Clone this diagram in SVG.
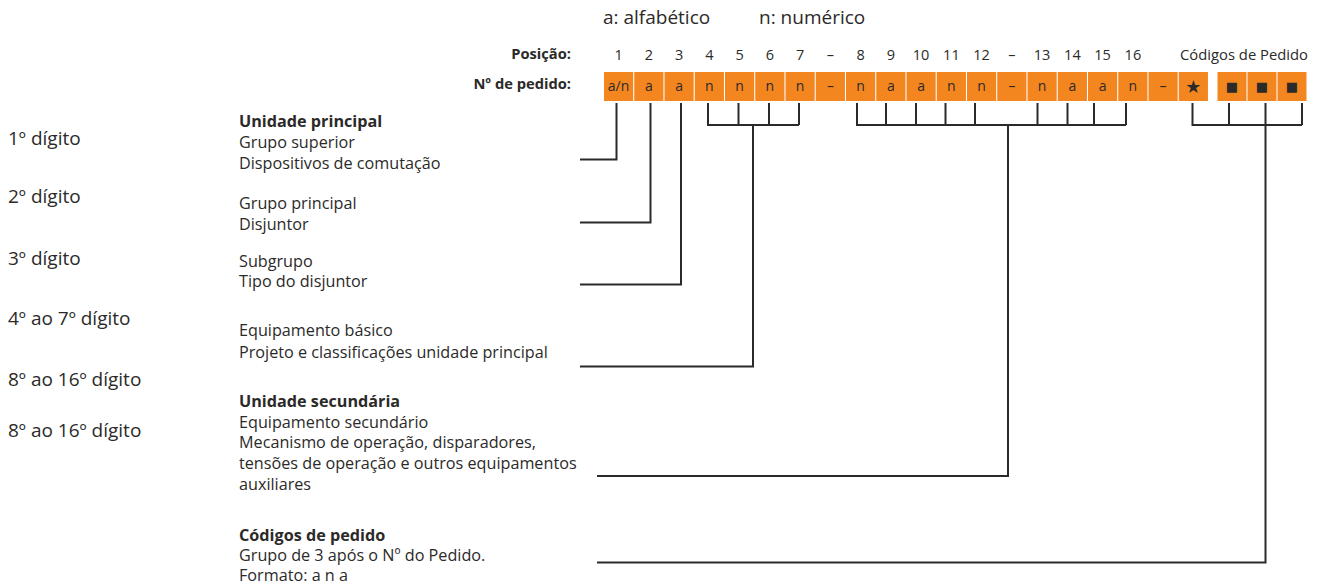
<svg xmlns="http://www.w3.org/2000/svg" width="1321" height="586" viewBox="0 0 1321 586">
<style>
text{font-family:"Open Sans","Noto Sans",sans-serif;fill:#2b2a29}
.hd{font-size:19px}
.lbl{font-size:14.7px;font-weight:bold}
.pos{font-size:14.5px;text-anchor:middle}
.cell{fill:#f4861f}
.ct{font-size:14px;text-anchor:middle}
.sym{font-family:"DejaVu Sans",sans-serif;text-anchor:middle}
.left{font-size:19px}
.mid{font-size:16.2px}
.b{font-weight:bold}
.ln{fill:none;stroke:#2b2a29;stroke-width:2}
</style>
<rect width="1321" height="586" fill="#fff"/>
<g id="header">
<text class="hd" x="603" y="24">a: alfabético</text>
<text class="hd" x="759" y="24">n: numérico</text>
<text class="lbl" x="571" y="59" text-anchor="end">Posição:</text>
<text class="lbl" x="571" y="89" text-anchor="end">Nº de pedido:</text>
</g>
<g id="positions">
<text class="pos" x="618.6" y="60">1</text>
<text class="pos" x="648.9" y="60">2</text>
<text class="pos" x="679.1" y="60">3</text>
<text class="pos" x="709.4" y="60">4</text>
<text class="pos" x="739.6" y="60">5</text>
<text class="pos" x="769.9" y="60">6</text>
<text class="pos" x="800.1" y="60">7</text>
<text class="pos" x="830.4" y="60">–</text>
<text class="pos" x="860.6" y="60">8</text>
<text class="pos" x="890.9" y="60">9</text>
<text class="pos" x="921.1" y="60">10</text>
<text class="pos" x="951.4" y="60">11</text>
<text class="pos" x="981.6" y="60">12</text>
<text class="pos" x="1011.9" y="60">–</text>
<text class="pos" x="1042.1" y="60">13</text>
<text class="pos" x="1072.4" y="60">14</text>
<text class="pos" x="1102.6" y="60">15</text>
<text class="pos" x="1132.9" y="60">16</text>
<text class="pos" x="1244" y="60" style="font-size:14.8px">Códigos de Pedido</text>
</g>
<g id="cells">
<rect class="cell" x="604" y="72" width="29.2" height="29"/>
<rect class="cell" x="634.25" y="72" width="29.2" height="29"/>
<rect class="cell" x="664.5" y="72" width="29.2" height="29"/>
<rect class="cell" x="694.75" y="72" width="29.2" height="29"/>
<rect class="cell" x="725" y="72" width="29.2" height="29"/>
<rect class="cell" x="755.25" y="72" width="29.2" height="29"/>
<rect class="cell" x="785.5" y="72" width="29.2" height="29"/>
<rect class="cell" x="815.75" y="72" width="29.2" height="29"/>
<rect class="cell" x="846" y="72" width="29.2" height="29"/>
<rect class="cell" x="876.25" y="72" width="29.2" height="29"/>
<rect class="cell" x="906.5" y="72" width="29.2" height="29"/>
<rect class="cell" x="936.75" y="72" width="29.2" height="29"/>
<rect class="cell" x="967" y="72" width="29.2" height="29"/>
<rect class="cell" x="997.25" y="72" width="29.2" height="29"/>
<rect class="cell" x="1027.5" y="72" width="29.2" height="29"/>
<rect class="cell" x="1057.75" y="72" width="29.2" height="29"/>
<rect class="cell" x="1088" y="72" width="29.2" height="29"/>
<rect class="cell" x="1118.25" y="72" width="29.2" height="29"/>
<rect class="cell" x="1148.5" y="72" width="29.2" height="29"/>
<rect class="cell" x="1178.75" y="72" width="29.2" height="29"/>
<rect class="cell" x="1217.5" y="72" width="29" height="29"/>
<rect class="cell" x="1247.5" y="72" width="29" height="29"/>
<rect class="cell" x="1277.5" y="72" width="29" height="29"/>
<text class="ct" x="618.6" y="91">a/n</text>
<text class="ct" x="648.9" y="91">a</text>
<text class="ct" x="679.1" y="91">a</text>
<text class="ct" x="709.4" y="91">n</text>
<text class="ct" x="739.6" y="91">n</text>
<text class="ct" x="769.9" y="91">n</text>
<text class="ct" x="800.1" y="91">n</text>
<text class="ct" x="830.4" y="91">–</text>
<text class="ct" x="860.6" y="91">n</text>
<text class="ct" x="890.9" y="91">a</text>
<text class="ct" x="921.1" y="91">a</text>
<text class="ct" x="951.4" y="91">n</text>
<text class="ct" x="981.6" y="91">n</text>
<text class="ct" x="1011.9" y="91">–</text>
<text class="ct" x="1042.1" y="91">n</text>
<text class="ct" x="1072.4" y="91">a</text>
<text class="ct" x="1102.6" y="91">a</text>
<text class="ct" x="1132.9" y="91">n</text>
<text class="ct" x="1163.1" y="91">–</text>
<text class="sym" x="1193.4" y="93" style="font-size:18px">★</text>
<text class="sym" x="1232" y="91" style="font-size:13px">■</text>
<text class="sym" x="1262" y="91" style="font-size:13px">■</text>
<text class="sym" x="1292" y="91" style="font-size:13px">■</text>
</g>
<g id="digit-labels">
<text class="left" x="8" y="145">1º dígito</text>
<text class="left" x="8" y="203">2º dígito</text>
<text class="left" x="8" y="265">3º dígito</text>
<text class="left" x="8" y="325">4º ao 7º dígito</text>
<text class="left" x="8" y="386">8º ao 16º dígito</text>
<text class="left" x="8" y="437">8º ao 16º dígito</text>
</g>
<g id="desc-principal">
<text class="mid b" x="239" y="127">Unidade principal</text>
<text class="mid" x="239" y="148">Grupo superior</text>
<text class="mid" x="239" y="168.5">Dispositivos de comutação</text>
<text class="mid" x="239" y="208.5">Grupo principal</text>
<text class="mid" x="239" y="229.5">Disjuntor</text>
<text class="mid" x="239" y="266.5">Subgrupo</text>
<text class="mid" x="239" y="287">Tipo do disjuntor</text>
<text class="mid" x="239" y="336">Equipamento básico</text>
<text class="mid" x="239" y="357.5">Projeto e classificações unidade principal</text>
</g>
<g id="desc-secundaria">
<text class="mid b" x="239" y="407">Unidade secundária</text>
<text class="mid" x="239" y="428">Equipamento secundário</text>
<text class="mid" x="239" y="448">Mecanismo de operação, disparadores,</text>
<text class="mid" x="239" y="469">tensões de operação e outros equipamentos</text>
<text class="mid" x="239" y="490">auxiliares</text>
</g>
<g id="desc-codigos">
<text class="mid b" x="239" y="541">Códigos de pedido</text>
<text class="mid" x="239" y="561">Grupo de 3 após o Nº do Pedido.</text>
<text class="mid" x="239" y="581">Formato: a n a</text>
</g>
<g id="connectors">
<path class="ln" d="M616.5,103 V159.5 H580"/>
<path class="ln" d="M650.5,103 V222.5 H580"/>
<path class="ln" d="M681,103 V284.5 H580"/>
<path class="ln" d="M708,103 V125 H799 M799,103 V125 M738.5,103 V125 M769,103 V125 M753,125 V366.5 H580"/>
<path class="ln" d="M857,103 V125 H1126 M1126,103 V125 M886,103 V125 M916,103 V125 M945.5,103 V125 M975,103 V125 M1037.5,103 V125 M1067.5,103 V125 M1094,103 V125 M1008,125 V476 H597"/>
<path class="ln" d="M1192.5,103 V125 H1302 M1302,103 V125 M1229,103 V125 M1265.5,103 V562.5 H597"/>
</g>
</svg>
